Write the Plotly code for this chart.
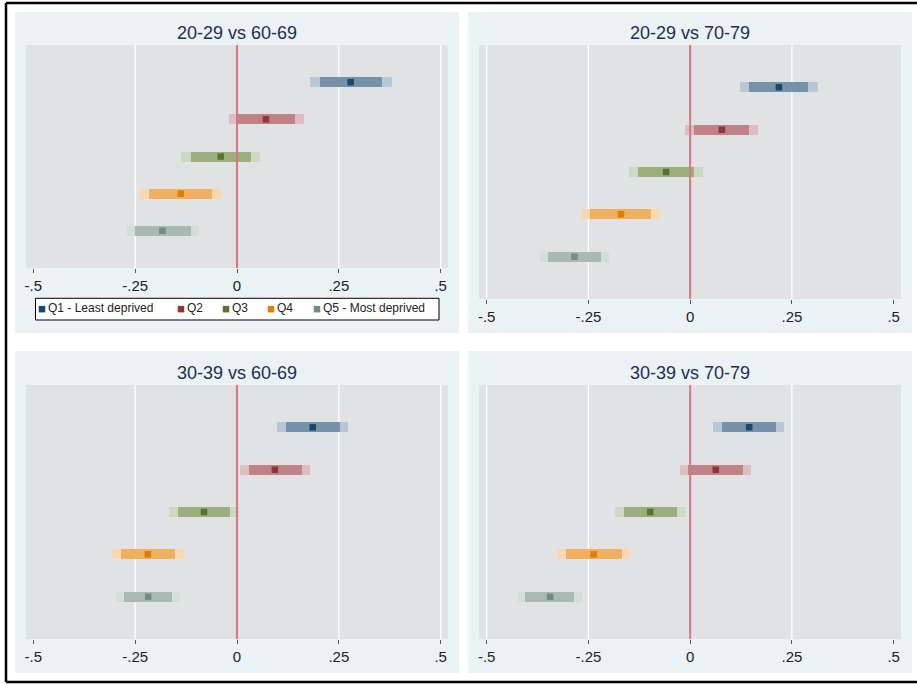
import plotly.graph_objects as go

# ---------------- data ----------------
panel_titles = ["20-29 vs 60-69", "20-29 vs 70-79", "30-39 vs 60-69", "30-39 vs 70-79"]
groups = ["Q1 - Least deprived", "Q2", "Q3", "Q4", "Q5 - Most deprived"]
group_pos = [1, 2, 3, 4, 5]
tick_vals = [-0.5, -0.25, 0, 0.25, 0.5]
tick_text = ["-.5", "-.25", "0", ".25", ".5"]

# panel 1: 20-29 vs 60-69
est_1 = [0.279, 0.071, -0.040, -0.138, -0.183]
outer_lo_1 = [0.179, -0.020, -0.137, -0.240, -0.271]
outer_hi_1 = [0.381, 0.165, 0.057, -0.037, -0.093]
inner_lo_1 = [0.204, 0.002, -0.113, -0.215, -0.251]
inner_hi_1 = [0.356, 0.143, 0.034, -0.061, -0.114]

# panel 2: 20-29 vs 70-79
est_2 = [0.218, 0.078, -0.059, -0.170, -0.284]
outer_lo_2 = [0.123, -0.012, -0.149, -0.268, -0.369]
outer_hi_2 = [0.314, 0.167, 0.032, -0.073, -0.198]
inner_lo_2 = [0.146, 0.010, -0.128, -0.245, -0.349]
inner_hi_2 = [0.291, 0.145, 0.010, -0.096, -0.219]

# panel 3: 30-39 vs 60-69
est_3 = [0.186, 0.093, -0.081, -0.219, -0.218]
outer_lo_3 = [0.099, 0.008, -0.167, -0.307, -0.297]
outer_hi_3 = [0.272, 0.179, 0.005, -0.131, -0.140]
inner_lo_3 = [0.120, 0.029, -0.146, -0.286, -0.277]
inner_hi_3 = [0.252, 0.160, -0.016, -0.152, -0.160]

# panel 4: 30-39 vs 70-79
est_4 = [0.145, 0.063, -0.098, -0.237, -0.344]
outer_lo_4 = [0.058, -0.025, -0.184, -0.326, -0.423]
outer_hi_4 = [0.232, 0.151, -0.012, -0.146, -0.266]
inner_lo_4 = [0.079, -0.005, -0.163, -0.305, -0.404]
inner_hi_4 = [0.211, 0.130, -0.032, -0.167, -0.285]

# ---------------- styles ----------------
marker_colors = ["#1a476f", "#90353b", "#55752f", "#e37e00", "#6e8e84"]
inner_colors = ["#7891ab", "#c08287", "#9aae7e", "#f0b060", "#a9bab4"]
outer_colors = ["#b8c7d6", "#dcbec2", "#ced9c4", "#f7d8b2", "#d3deda"]

W, H = 917, 684
FONT = "Liberation Sans, Arial, sans-serif"

# pixel layout of each panel: (panel box), (plot box)
panel_boxes = [(15, 12, 459, 333), (468, 12, 912, 333), (15, 351, 459, 673), (468, 351, 912, 673)]
plot_boxes = [(26, 45, 448, 268), (479.3, 45, 901, 299), (26, 385, 448, 639), (479.3, 385, 901, 639)]
grid_sets = [[-0.25, 0.25, 0.5], [-0.5, -0.25, 0.25], [-0.25, 0.25, 0.5], [-0.5, -0.25, 0.25]]

# legend box (pixels) and key slot positions inside it
legend_box = (35.5, 298.3, 439, 320)
legend_slots = [42, 181, 226, 271, 317]
legend_text_offset = 6

panels = [
    (est_1, outer_lo_1, outer_hi_1, inner_lo_1, inner_hi_1),
    (est_2, outer_lo_2, outer_hi_2, inner_lo_2, inner_hi_2),
    (est_3, outer_lo_3, outer_hi_3, inner_lo_3, inner_hi_3),
    (est_4, outer_lo_4, outer_hi_4, inner_lo_4, inner_hi_4),
]

BAR_PX = 10.0
Y_RANGE = [6, 0]

fig = go.Figure()
shapes = []
annotations = []

# outer frame: left, top and bottom edges only (image is cropped at the right)
fx, fy_top, fy_bot = 6 / W, 1 - 3 / H, 1 - 682 / H
frame_line = dict(color="black", width=2.5)
shapes.append(dict(type="line", xref="paper", yref="paper", x0=fx, x1=fx,
                   y0=fy_bot, y1=fy_top, line=frame_line, layer="below"))
shapes.append(dict(type="line", xref="paper", yref="paper", x0=fx, x1=1.0,
                   y0=fy_top, y1=fy_top, line=frame_line, layer="below"))
shapes.append(dict(type="line", xref="paper", yref="paper", x0=fx, x1=1.0,
                   y0=fy_bot, y1=fy_bot, line=frame_line, layer="below"))

for i, (est, olo, ohi, ilo, ihi) in enumerate(panels):
    n = i + 1
    xa = "x" if n == 1 else f"x{n}"
    ya = "y" if n == 1 else f"y{n}"
    px0, py0, px1, py1 = panel_boxes[i]
    qx0, qy0, qx1, qy1 = plot_boxes[i]

    # panel background
    shapes.append(dict(type="rect", xref="paper", yref="paper",
                       x0=px0 / W, x1=px1 / W, y0=1 - py1 / H, y1=1 - py0 / H,
                       line=dict(width=0), fillcolor="#eaf2f3", layer="below"))
    # plot region background
    shapes.append(dict(type="rect", xref=f"{xa} domain", yref=f"{ya} domain",
                       x0=0, x1=1, y0=0, y1=1,
                       line=dict(width=0), fillcolor="#e0e2e4", layer="below"))
    for g in grid_sets[i]:
        shapes.append(dict(type="line", xref=xa, yref=f"{ya} domain",
                           x0=g, x1=g, y0=0, y1=1,
                           line=dict(color="white", width=1.3), layer="below"))
    # reference line at zero
    shapes.append(dict(type="line", xref=xa, yref=f"{ya} domain",
                       x0=0, x1=0, y0=0, y1=1,
                       line=dict(color="#d6767f", width=2), layer="above"))

    px_per_unit = (qy1 - qy0) / abs(Y_RANGE[0] - Y_RANGE[1])
    bw = BAR_PX / px_per_unit

    fig.add_trace(go.Bar(
        orientation="h", y=group_pos, base=olo,
        x=[h - l for h, l in zip(ohi, olo)], width=bw,
        marker=dict(color=outer_colors, line=dict(width=0)),
        showlegend=False, hoverinfo="skip", xaxis=xa, yaxis=ya))
    fig.add_trace(go.Bar(
        orientation="h", y=group_pos, base=ilo,
        x=[h - l for h, l in zip(ihi, ilo)], width=bw,
        marker=dict(color=inner_colors, line=dict(width=0)),
        showlegend=False, hoverinfo="skip", xaxis=xa, yaxis=ya))
    for k, gname in enumerate(groups):
        fig.add_trace(go.Scatter(
            x=[est[k]], y=[group_pos[k]], mode="markers", name=gname,
            marker=dict(symbol="square", size=6.5, color=marker_colors[k]),
            showlegend=False, xaxis=xa, yaxis=ya))

    xkey = "xaxis" if n == 1 else f"xaxis{n}"
    ykey = "yaxis" if n == 1 else f"yaxis{n}"
    fig.update_layout({
        xkey: dict(domain=[qx0 / W, qx1 / W], range=[-0.518, 0.518],
                   tickmode="array", tickvals=tick_vals, ticktext=tick_text,
                   ticks="outside", ticklen=4, tickwidth=1, tickcolor="#555555",
                   tickfont=dict(size=15, color="#222222", family=FONT),
                   showgrid=False, zeroline=False, showline=False,
                   anchor=ya, fixedrange=True),
        ykey: dict(domain=[1 - qy1 / H, 1 - qy0 / H], range=Y_RANGE,
                   visible=False, anchor=xa, fixedrange=True),
    })

    annotations.append(dict(text=panel_titles[i], xref="paper", yref="paper",
                            x=(px0 + px1) / 2 / W, y=1 - (py0 + 21.5) / H,
                            xanchor="center", yanchor="middle", showarrow=False,
                            font=dict(size=18, color="#1e2d53", family=FONT)))

# ---------------- legend (key box under panel 1) ----------------
lx0, ly0, lx1, ly1 = legend_box
shapes.append(dict(type="rect", xref="x5 domain", yref="y5 domain",
                   x0=0, x1=1, y0=0, y1=1,
                   line=dict(color="black", width=1), fillcolor="white", layer="below"))
fig.add_trace(go.Scatter(
    x=legend_slots, y=[0.5] * len(groups), mode="markers",
    marker=dict(symbol="square", size=6.5, color=marker_colors),
    cliponaxis=False, showlegend=False, hoverinfo="skip",
    xaxis="x5", yaxis="y5"))
fig.add_trace(go.Scatter(
    x=[s + legend_text_offset for s in legend_slots], y=[0.5] * len(groups), mode="text",
    text=groups, textposition="middle right",
    textfont=dict(size=12, color="#222222", family=FONT),
    cliponaxis=False, showlegend=False, hoverinfo="skip",
    xaxis="x5", yaxis="y5"))
fig.update_layout(
    xaxis5=dict(domain=[lx0 / W, lx1 / W], range=[lx0, lx1], visible=False,
                anchor="y5", fixedrange=True),
    yaxis5=dict(domain=[1 - ly1 / H, 1 - ly0 / H], range=[0, 1], visible=False,
                anchor="x5", fixedrange=True),
)

fig.update_layout(
    width=W, height=H,
    margin=dict(l=0, r=0, t=0, b=0),
    paper_bgcolor="white", plot_bgcolor="rgba(0,0,0,0)",
    barmode="overlay", bargap=0,
    shapes=shapes, annotations=annotations,
    font=dict(family=FONT),
    showlegend=False,
)

fig.write_html(
    "out.html", config={"displayModeBar": False},
    post_script=("document.body.style.margin='0px';"
                 "document.body.style.overflow='hidden';"
                 "document.documentElement.style.overflow='hidden';"))
